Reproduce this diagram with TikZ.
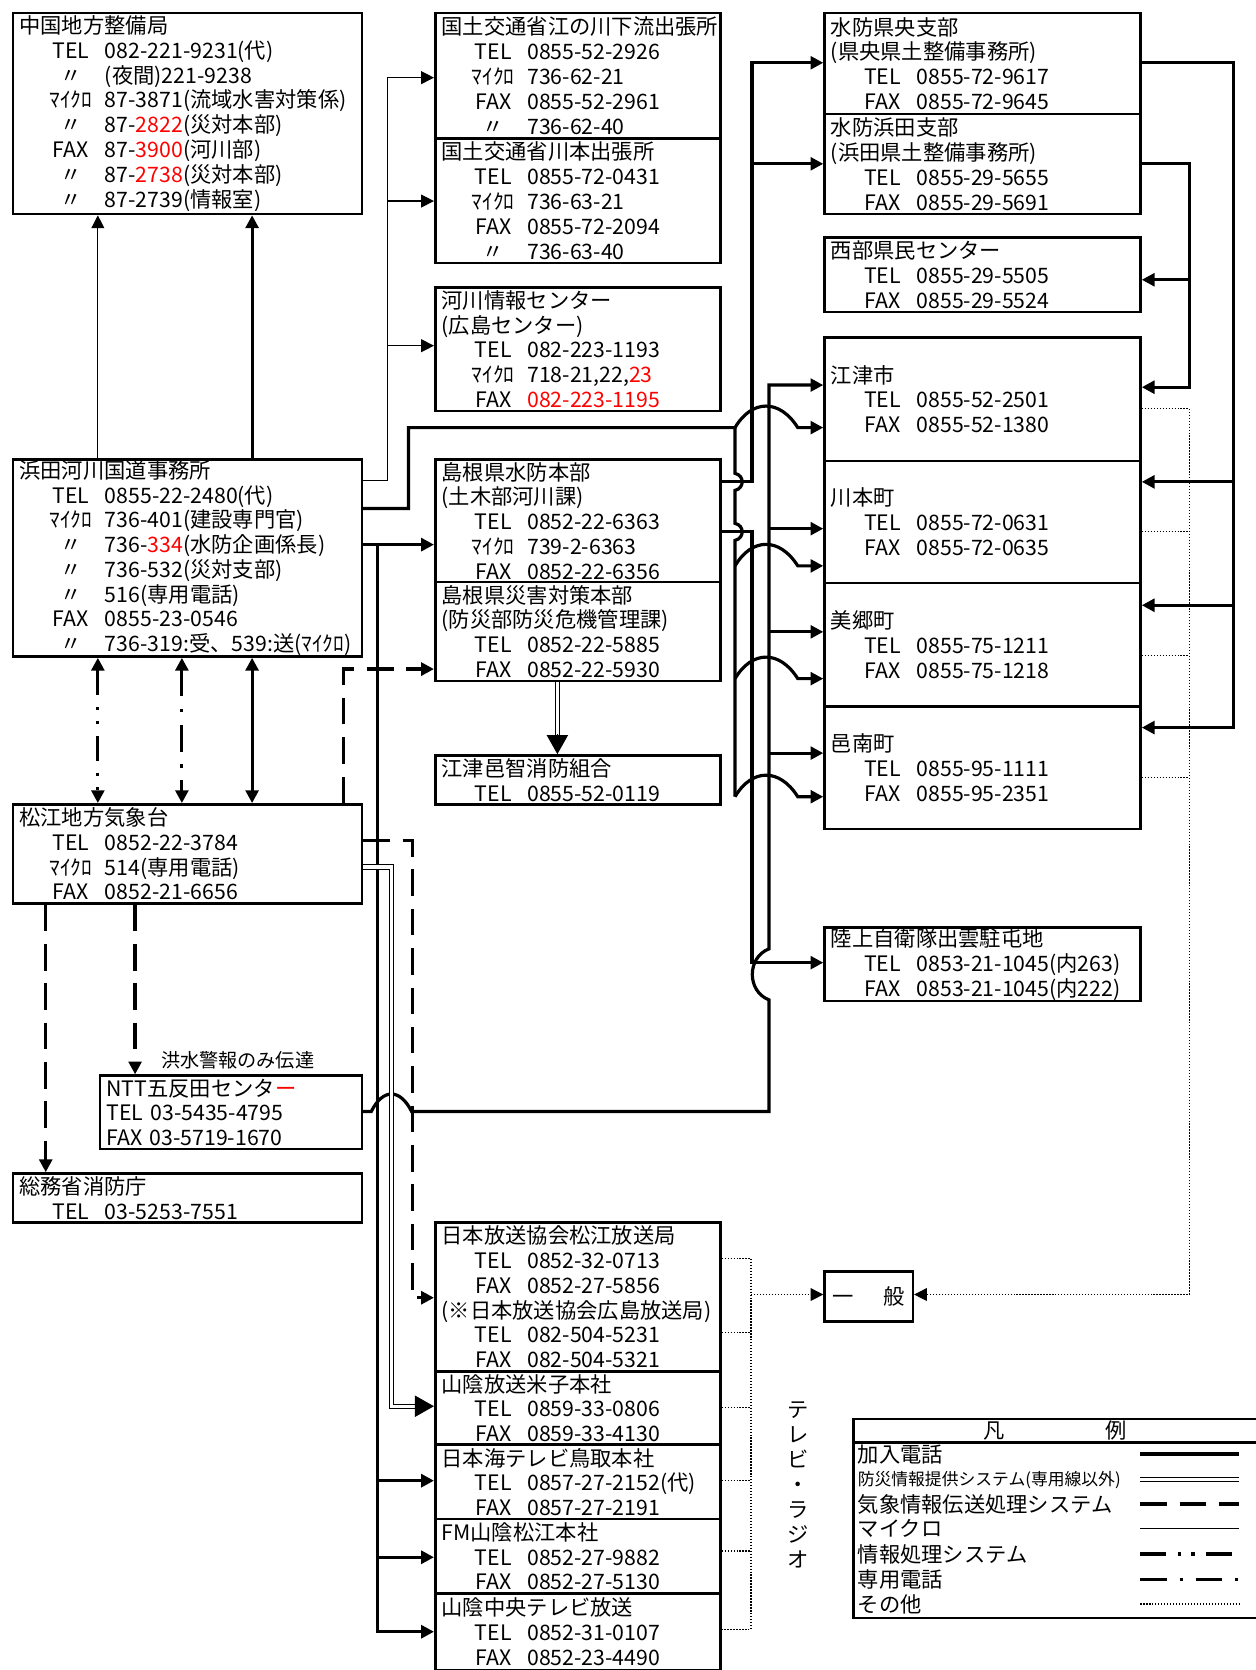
\documentclass[tikz,border=0pt]{standalone}
\usepackage{fontspec}
\setmainfont{Noto Sans CJK JP}
\usetikzlibrary{arrows.meta}

% one row of a box: label column, then number column
\newcommand{\telrow}[2]{\mbox{\hspace*{11.25pt}\makebox[26pt]{#1}\hspace{3pt}#2}}
\newcommand{\redtxt}[1]{\textcolor{red}{#1}}

\begin{document}
\begin{tikzpicture}[x=0.5pt, y=-0.5pt]
    \useasboundingbox (0,0) rectangle (1180,1570);

    % styles of the boxes
    \tikzstyle{box} = [draw, line width=1.2pt, anchor=north west, align=left,
        inner xsep=3pt, inner ysep=0pt, font=\fontsize{10}{11.65}\selectfont]
    \tikzstyle{colA} = [box, text width=158pt]
    \tikzstyle{colB} = [box, text width=128pt]
    \tikzstyle{colC} = [box, text width=142.5pt]

    % styles of the lines (as in the legend)
    \tikzstyle{tel} = [line width=1.5pt]
    \tikzstyle{micro} = [line width=0.6pt]
    \tikzstyle{kisho} = [line width=1.5pt, dash pattern=on 12.5pt off 6pt]
    \tikzstyle{joho} = [line width=1.5pt, dash pattern=on 12pt off 5.5pt on 1.5pt off 5pt on 1.5pt off 5.5pt]
    \tikzstyle{senyo} = [line width=1.5pt, dash pattern=on 12.5pt off 6pt on 1.5pt off 6pt]
    \tikzstyle{bousai} = [double, double distance=1.5pt, line width=0.5pt]
    \tikzstyle{sonota} = [line width=0.6pt, dash pattern=on 0.6pt off 0.8pt]
    \tikzstyle{arr} = [-{Triangle[length=6pt,width=6pt]}]
    \tikzstyle{arr2} = [{Triangle[length=6pt,width=6pt]}-{Triangle[length=6pt,width=6pt]}]
    \tikzstyle{bigarr} = [-{Triangle[length=9pt,width=10pt]}]

    % left column
    \node[colA, minimum height=94.5pt] (chugoku) at (11,11) {中国地方整備局\\
        \telrow{TEL}{082-221-9231(代)}\\
        \telrow{〃}{(夜間)221-9238}\\
        \telrow{ﾏｲｸﾛ}{87-3871(流域水害対策係)}\\
        \telrow{〃}{87-\redtxt{2822}(災対本部)}\\
        \telrow{FAX}{87-\redtxt{3900}(河川部)}\\
        \telrow{〃}{87-\redtxt{2738}(災対本部)}\\
        \telrow{〃}{87-2739(情報室)}};
    \node[colA, minimum height=92.5pt] (hamada) at (11,431) {浜田河川国道事務所\\
        \telrow{TEL}{0855-22-2480(代)}\\
        \telrow{ﾏｲｸﾛ}{736-401(建設専門官)}\\
        \telrow{〃}{736-\redtxt{334}(水防企画係長)}\\
        \telrow{〃}{736-532(災対支部)}\\
        \telrow{〃}{516(専用電話)}\\
        \telrow{FAX}{0855-23-0546}\\
        \telrow{〃}{736-319:受、539:送(ﾏｲｸﾛ)}};
    \node[colA, minimum height=46.5pt] (matsue) at (11,755) {松江地方気象台\\
        \telrow{TEL}{0852-22-3784}\\
        \telrow{ﾏｲｸﾛ}{514(専用電話)}\\
        \telrow{FAX}{0852-21-6656}};
    \node[box, text width=117pt, minimum height=34.5pt] (ntt) at (93,1010) {NTT五反田センタ\redtxt{ー}\\
        TEL 03-5435-4795\\
        FAX 03-5719-1670};
    \node[colA, minimum height=23pt] (shobo) at (11,1102) {総務省消防庁\\
        \telrow{TEL}{03-5253-7551}};
    \node[anchor=west, inner sep=0pt, font=\fontsize{9}{10}\selectfont] (kozui) at (151,997) {洪水警報のみ伝達};

    % middle column
    \node[colB, minimum height=59pt] (enokawa) at (408,11) {国土交通省江の川下流出張所\\
        \telrow{TEL}{0855-52-2926}\\
        \telrow{ﾏｲｸﾛ}{736-62-21}\\
        \telrow{FAX}{0855-52-2961}\\
        \telrow{〃}{736-62-40}};
    \node[colB, minimum height=58.5pt] (kawamotoO) at (408,129) {国土交通省川本出張所\\
        \telrow{TEL}{0855-72-0431}\\
        \telrow{ﾏｲｸﾛ}{736-63-21}\\
        \telrow{FAX}{0855-72-2094}\\
        \telrow{〃}{736-63-40}};
    \node[colB, minimum height=58pt] (kasen) at (408,269) {河川情報センター\\
        (広島センター)\\
        \telrow{TEL}{082-223-1193}\\
        \telrow{ﾏｲｸﾛ}{718-21,22,\redtxt{23}}\\
        \telrow{FAX}{\redtxt{082-223-1195}}};
    \node[colB, minimum height=57.5pt] (suibou) at (408,431) {島根県水防本部\\
        (土木部河川課)\\
        \telrow{TEL}{0852-22-6363}\\
        \telrow{ﾏｲｸﾛ}{739-2-6363}\\
        \telrow{FAX}{0852-22-6356}};
    \node[colB, minimum height=46.5pt] (saigai) at (408,546) {島根県災害対策本部\\
        (防災部防災危機管理課)\\
        \telrow{TEL}{0852-22-5885}\\
        \telrow{FAX}{0852-22-5930}};
    \node[colB, minimum height=23pt] (gochi) at (408,709) {江津邑智消防組合\\
        \telrow{TEL}{0855-52-0119}};

    % broadcasters
    \node[colB, minimum height=70pt] (nhk) at (408,1148) {日本放送協会松江放送局\\
        \telrow{TEL}{0852-32-0713}\\
        \telrow{FAX}{0852-27-5856}\\
        (※日本放送協会広島放送局)\\
        \telrow{TEL}{082-504-5231}\\
        \telrow{FAX}{082-504-5321}};
    \node[colB, minimum height=34.5pt] (bss) at (408,1288) {山陰放送米子本社\\
        \telrow{TEL}{0859-33-0806}\\
        \telrow{FAX}{0859-33-4130}};
    \node[colB, minimum height=35pt] (nkt) at (408,1357) {日本海テレビ鳥取本社\\
        \telrow{TEL}{0857-27-2152(代)}\\
        \telrow{FAX}{0857-27-2191}};
    \node[colB, minimum height=35pt] (fm) at (408,1427) {FM山陰松江本社\\
        \telrow{TEL}{0852-27-9882}\\
        \telrow{FAX}{0852-27-5130}};
    \node[colB, minimum height=36pt] (tsk) at (408,1497) {山陰中央テレビ放送\\
        \telrow{TEL}{0852-31-0107}\\
        \telrow{FAX}{0852-23-4490}};
    \node[inner sep=0pt, align=center, font=\fontsize{10}{11.75}\selectfont] (tvradio) at (750,1396)
        {テ\\レ\\ビ\\・\\ラ\\ジ\\オ};

    % right column
    \node[colC, minimum height=47.5pt] (kenou) at (774,11) {水防県央支部\\
        (県央県土整備事務所)\\
        \telrow{TEL}{0855-72-9617}\\
        \telrow{FAX}{0855-72-9645}};
    \node[colC, minimum height=47pt] (hamadaS) at (774,106) {水防浜田支部\\
        (浜田県土整備事務所)\\
        \telrow{TEL}{0855-29-5655}\\
        \telrow{FAX}{0855-29-5691}};
    \node[colC, minimum height=35pt] (seibu) at (774,222) {西部県民センター\\
        \telrow{TEL}{0855-29-5505}\\
        \telrow{FAX}{0855-29-5524}};
    \node[colC, minimum height=58pt] (gotsu) at (774,316) {江津市\\
        \telrow{TEL}{0855-52-2501}\\
        \telrow{FAX}{0855-52-1380}};
    \node[colC, minimum height=57.5pt] (kawamotoT) at (774,432) {川本町\\
        \telrow{TEL}{0855-72-0631}\\
        \telrow{FAX}{0855-72-0635}};
    \node[colC, minimum height=58pt] (misato) at (774,547) {美郷町\\
        \telrow{TEL}{0855-75-1211}\\
        \telrow{FAX}{0855-75-1218}};
    \node[colC, minimum height=57.5pt] (onan) at (774,663) {邑南町\\
        \telrow{TEL}{0855-95-1111}\\
        \telrow{FAX}{0855-95-2351}};
    \node[colC, minimum height=34.5pt] (rikujo) at (774,871) {陸上自衛隊出雲駐屯地\\
        \telrow{TEL}{0853-21-1045(内263)}\\
        \telrow{FAX}{0853-21-1045(内222)}};
    \node[box, align=center, minimum width=41.5pt, minimum height=23.5pt] (ippan) at (774,1194) {一\hspace{1.4em}般};

    % legend
    \node[draw, line width=1.2pt, anchor=north west, minimum width=195pt, minimum height=93.5pt] (hanrei) at (801,1333) {};
    \draw[line width=1.2pt] (801,1356) -- (1192,1356);
    \node[font=\fontsize{10}{11.65}\selectfont] (hanreiT) at (992,1345) {凡\hspace{4.75em}例};
    \foreach \y/\txt/\sty/\fsz in {1367/加入電話/tel/10, 1391/防災情報提供システム(専用線以外)/bousai/7.9,
        1414/気象情報伝送処理システム/kisho/10, 1437/マイクロ/micro/10, 1461/情報処理システム/joho/10,
        1485/専用電話/senyo/10, 1508/その他/sonota/10} {
        \node[anchor=west, inner sep=0pt, font=\fontsize{\fsz}{12}\selectfont] (lg\y) at (806,\y) {\txt};
        \draw[\sty] (1072,\y) -- (1165,\y);
    }

    % 浜田 -> 中国地方整備局
    \draw[micro, arr] (hamada.north -| 92,0) -- (chugoku.south -| 92,0);
    \draw[tel, arr] (hamada.north -| 237,0) -- (chugoku.south -| 237,0);

    % マイクロ to the 国土交通省 offices
    \draw[micro, arr] (hamada.east |- 0,452) -| (364,73) -- (enokawa.west |- 0,73);
    \draw[micro, arr] (364,189) -- (kawamotoO.west |- 0,189);
    \draw[micro, arr] (364,325) -- (kasen.west |- 0,325);

    % 浜田 -> FAX of the towns (jumping over the other lines)
    \draw[tel, arr] (hamada.east |- 0,478) -| (384,402) -- (691,402)
        .. controls (707,375) and (733,375) .. (750,402) -- (gotsu.west |- 0,402);
    \draw[tel] (691,402) -- (691,445) .. controls (700,447) and (700,459) .. (691,461)
        -- (691,492) .. controls (700,494) and (700,506) .. (691,508) -- (691,749);
    \foreach \y/\dst in {532/kawamotoT, 638/misato, 749/onan}
        \draw[tel, arr] (691,\y) .. controls (707,\y-27) and (733,\y-27) .. (750,\y) -- (\dst.west |- 0,\y);

    % 水防本部 -> 水防支部, 陸上自衛隊
    \draw[tel, arr] (suibou.east |- 0,453) -| (707,59) -- (kenou.west |- 0,59);
    \draw[tel, arr] (707,154) -- (hamadaS.west |- 0,154);
    \draw[tel, arr] (suibou.east |- 0,500) -| (707,905) -- (rikujo.west |- 0,905);

    % NTT -> TEL of the towns
    \draw[tel, arr] (ntt.east |- 0,1045) -- (349,1045) .. controls (360,1023) and (376,1023) .. (387,1045)
        -- (723,1045) -- (723,940) .. controls (702,932) and (702,900) .. (723,892)
        -- (723,362) -- (gotsu.west |- 0,362);
    \foreach \y/\dst in {497/kawamotoT, 594/misato, 708/onan}
        \draw[tel, arr] (723,\y) -- (\dst.west |- 0,\y);

    % 浜田 -> 水防本部 and broadcasters
    \draw[tel, arr] (hamada.east |- 0,512) -- (suibou.west |- 0,512);
    \draw[tel, arr] (355,512) |- (tsk.west |- 0,1534);
    \foreach \y/\dst in {1392/nkt, 1464/fm}
        \draw[tel, arr] (355,\y) -- (\dst.west |- 0,\y);

    % 浜田 <-> 松江
    \draw[joho, arr2] (hamada.south -| 92,0) -- (matsue.north -| 92,0);
    \draw[senyo, arr2] (hamada.south -| 171,0) -- (matsue.north -| 171,0);
    \draw[tel, arr2] (hamada.south -| 237,0) -- (matsue.north -| 237,0);

    % 気象情報伝送処理システム from 松江
    \draw[kisho, arr] (matsue.north -| 323,0) |- (saigai.west |- 0,629);
    \draw[kisho, arr] (matsue.south -| 43,0) -- (shobo.north -| 43,0);
    \draw[kisho, arr] (matsue.south -| 127,0) -- (ntt.north -| 127,0);
    \draw[kisho, arr] (matsue.east |- 0,790) -| (388,1220) -- (nhk.west |- 0,1220);

    % 防災情報提供システム
    \draw[bousai] (matsue.east |- 0,815) -| (368,1322) -- (396,1322);
    \draw[micro, bigarr] (392,1322) -- (bss.west |- 0,1322);
    \draw[bousai] (saigai.south -| 524,0) -- (524,692);
    \draw[micro, bigarr] (524,690) -- (gochi.north -| 524,0);

    % 水防支部 -> towns
    \draw[tel, arr] (kenou.east |- 0,59) -| (1160,684) -- (onan.east |- 0,684);
    \foreach \y/\dst in {453/kawamotoT, 569/misato}
        \draw[tel, arr] (1160,\y) -- (\dst.east |- 0,\y);
    \draw[tel, arr] (hamadaS.east |- 0,154) -| (1118,364) -- (gotsu.east |- 0,364);
    \draw[tel, arr] (1118,263) -- (seibu.east |- 0,263);

    % その他 -> 一般
    \draw[sonota, arr] (gotsu.east |- 0,384) -| (1118,1217) -- (ippan.east |- 0,1217);
    \foreach \y/\src in {500/kawamotoT, 616/misato, 731/onan}
        \draw[sonota] (\src.east |- 0,\y) -- (1118,\y);
    \draw[sonota] (nhk.east |- 0,1183) -| (706,1532) -- (tsk.east |- 0,1532);
    \foreach \y/\src in {1253/nhk, 1323/bss, 1392/nkt, 1458/fm}
        \draw[sonota] (\src.east |- 0,\y) -- (706,\y);
    \draw[sonota, arr] (706,1217) -- (ippan.west |- 0,1217);

\end{tikzpicture}
\end{document}
